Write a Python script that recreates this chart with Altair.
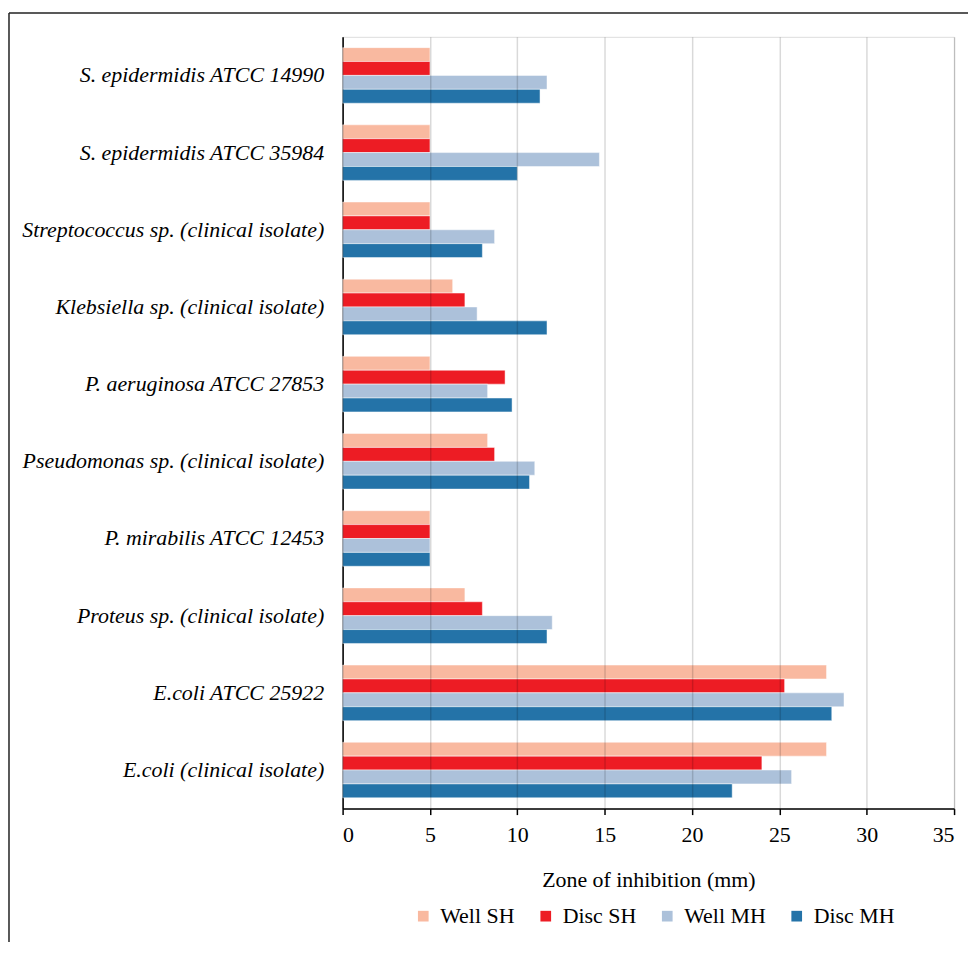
import altair as alt
import pandas as pd

categories = [
    "S. epidermidis ATCC 14990",
    "S. epidermidis ATCC 35984",
    "Streptococcus sp. (clinical isolate)",
    "Klebsiella sp. (clinical isolate)",
    "P. aeruginosa ATCC 27853",
    "Pseudomonas sp. (clinical isolate)",
    "P. mirabilis ATCC 12453",
    "Proteus sp. (clinical isolate)",
    "E.coli ATCC 25922",
    "E.coli (clinical isolate)",
]
series = ["Well SH", "Disc SH", "Well MH", "Disc MH"]
colors = ["#F9B9A0", "#ED1C24", "#ACC1DA", "#2473A8"]

well_sh = [5, 5, 5, 6.3, 5, 8.3, 5, 7.0, 27.7, 27.7]
disc_sh = [5, 5, 5, 7.0, 9.3, 8.7, 5, 8.0, 25.3, 24.0]
well_mh = [11.7, 14.7, 8.7, 7.7, 8.3, 11.0, 5, 12.0, 28.7, 25.7]
disc_mh = [11.3, 10.0, 8.0, 11.7, 9.7, 10.7, 5, 11.7, 28.0, 22.3]
x_ticks = [0, 5, 10, 15, 20, 25, 30, 35]

rows = []
for name, vals in zip(series, [well_sh, disc_sh, well_mh, disc_mh]):
    for c, v in zip(categories, vals):
        rows.append({"Organism": c, "Series": name, "Value": v})
df = pd.DataFrame(rows)

FONT = "Liberation Serif"

bars = alt.Chart(df).mark_bar(
    stroke="white", strokeWidth=0.8, strokeOpacity=0.6
).encode(
    x=alt.X(
        "Value:Q",
        scale=alt.Scale(domain=[0, 35], nice=False),
        axis=alt.Axis(
            values=x_ticks,
            title="Zone of inhibition (mm)",
            titleFont=FONT,
            titleFontSize=22,
            titleFontWeight="normal",
            titleColor="black",
            titlePadding=24,
            labelFont=FONT,
            labelFontSize=22,
            labelColor="black",
            labelPadding=10,
            tickColor="black",
            tickSize=6,
            tickWidth=1.5,
            domainColor="black",
            domainWidth=1.5,
            grid=True,
            gridColor="black",
            gridOpacity=0.15,
            gridWidth=1.5,
            zindex=1,
        ),
    ),
    y=alt.Y(
        "Organism:N",
        sort=categories,
        scale=alt.Scale(paddingInner=0.28, paddingOuter=0.14),
        axis=alt.Axis(
            title=None,
            ticks=False,
            labelFont=FONT,
            labelFontSize=22,
            labelFontStyle="italic",
            labelColor="black",
            labelPadding=19,
            labelLimit=500,
            domainColor="black",
            domainWidth=1.5,
            grid=False,
        ),
    ),
    yOffset=alt.YOffset("Series:N", sort=series),
    color=alt.Color(
        "Series:N",
        sort=series,
        scale=alt.Scale(domain=series, range=colors),
        legend=alt.Legend(
            title=None,
            orient="none",
            direction="horizontal",
            legendX=70,
            legendY=872,
            symbolType="square",
            symbolSize=115,
            symbolStrokeWidth=0,
            labelFont=FONT,
            labelFontSize=22,
            labelColor="black",
            labelOffset=6,
            columnPadding=20,
        ),
    ),
)

frame_df = pd.DataFrame({"k": [0]})
top_line = alt.Chart(frame_df).mark_rule(color="#222", strokeWidth=1.5).encode(
    x=alt.value(-335), x2=alt.value(628), y=alt.value(-24)
)
left_line = alt.Chart(frame_df).mark_rule(color="#222", strokeWidth=1.5).encode(
    x=alt.value(-335), y=alt.value(-24), y2=alt.value(909)
)

chart = alt.layer(bars, top_line, left_line).properties(
    width=614,
    height=775,
    padding={"left": 0, "top": 2, "right": 0, "bottom": 0},
).configure_view(strokeWidth=0).configure(background="white")

chart.save("out.html", embed_options={"renderer": "svg", "actions": False})
